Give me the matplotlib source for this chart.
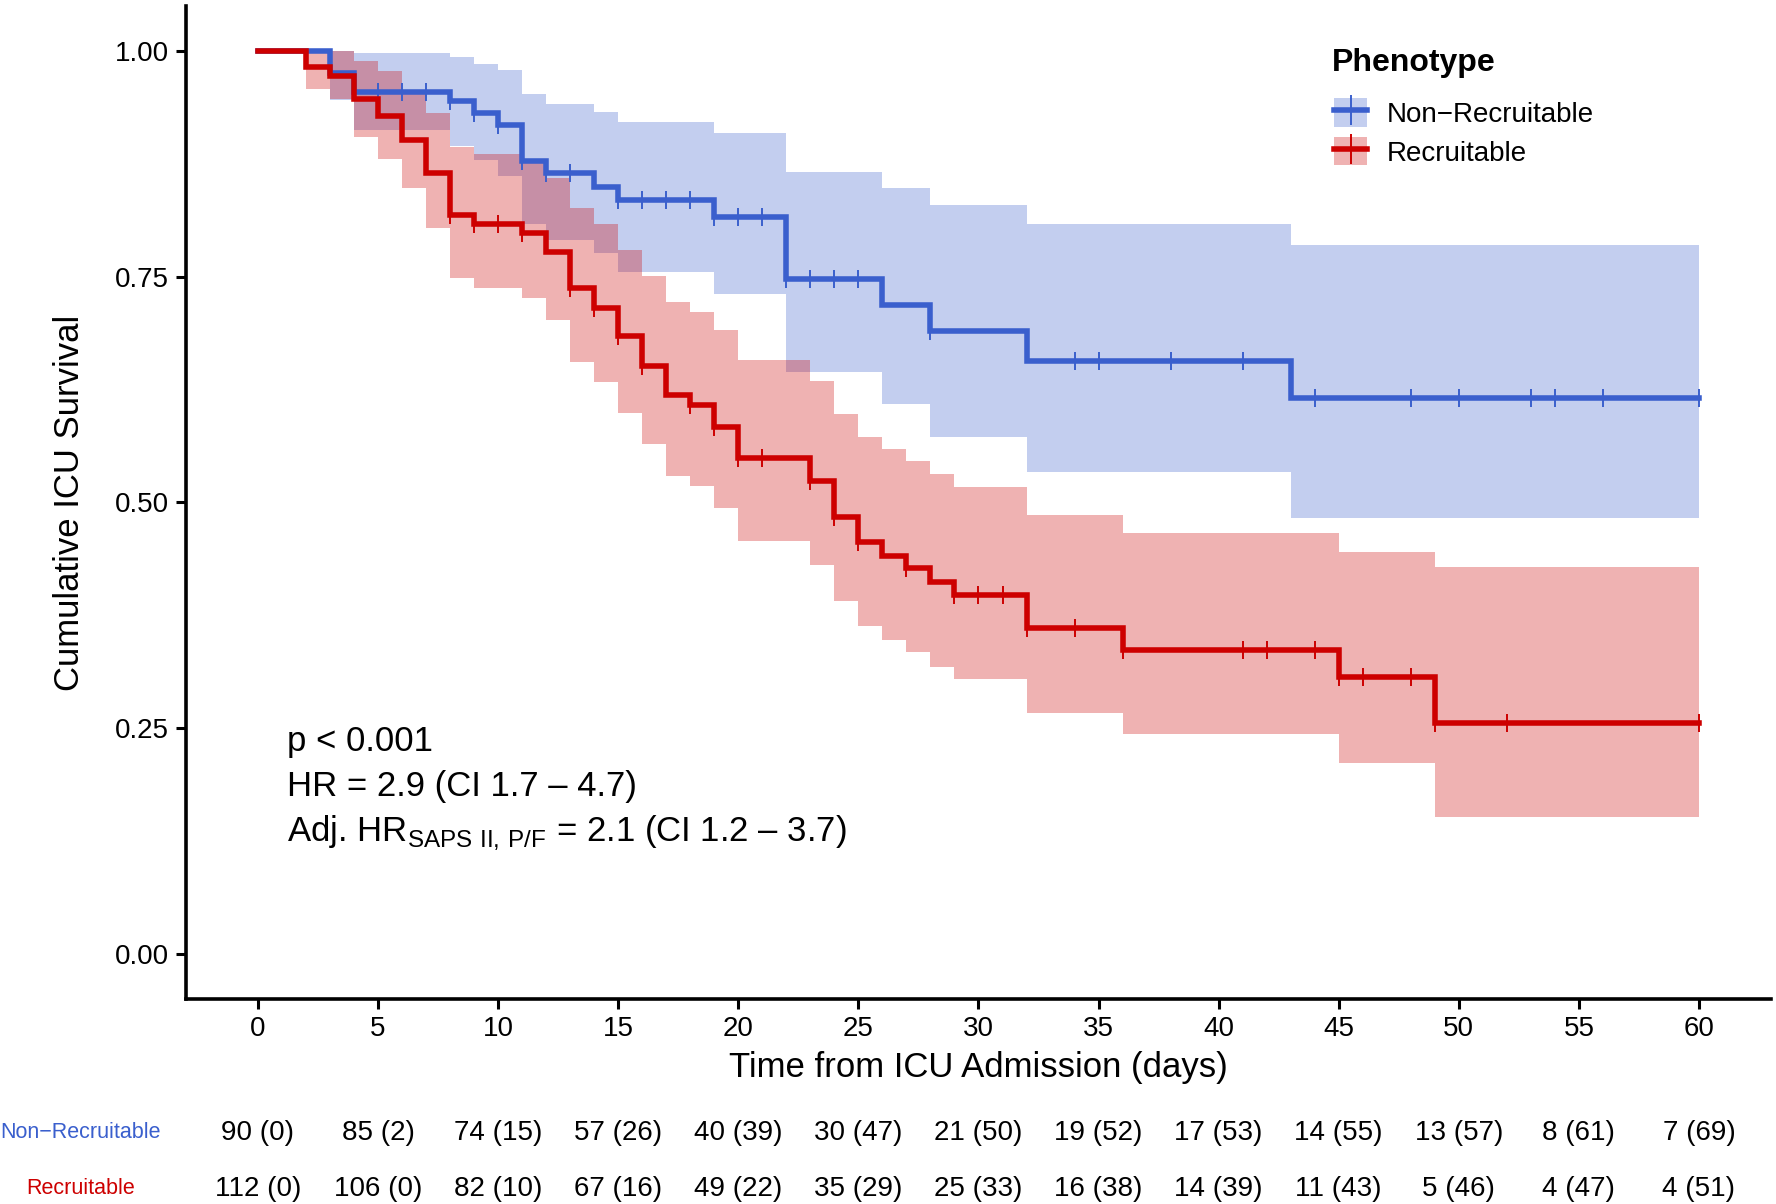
import numpy as np
import matplotlib

matplotlib.use("Agg")
import matplotlib.pyplot as plt
from matplotlib.patches import Patch
from matplotlib.lines import Line2D
from matplotlib.legend_handler import HandlerTuple

plt.rcParams["font.family"] = ["Liberation Sans", "DejaVu Sans"]
plt.rcParams["mathtext.fontset"] = "custom"
plt.rcParams["mathtext.rm"] = "Liberation Sans"

BLUE = "#3A5FCD"
RED = "#CD0000"

# Kaplan-Meier estimates (step changes, last point = end of follow-up)
nonrec_time = [0, 3, 4, 8, 9, 10, 11, 12, 14, 15, 19, 22, 26, 28, 32, 43, 60]
nonrec_surv = [1.0, 0.976, 0.955, 0.945, 0.931, 0.918, 0.878, 0.865, 0.850, 0.835,
               0.816, 0.748, 0.719, 0.690, 0.657, 0.616, 0.616]
nonrec_lower = [1.0, 0.946, 0.913, 0.895, 0.879, 0.862, 0.809, 0.791, 0.776, 0.755,
                0.731, 0.645, 0.609, 0.573, 0.534, 0.483, 0.483]
nonrec_upper = [1.0, 1.0, 0.998, 0.993, 0.986, 0.979, 0.952, 0.942, 0.933, 0.921,
                0.909, 0.866, 0.848, 0.830, 0.809, 0.785, 0.785]
nonrec_censor = [5, 6, 7, 8, 9, 10, 11, 12, 13, 15, 16, 17, 18, 19, 20, 21, 22, 23,
                 24, 25, 28, 34, 35, 38, 41, 44, 48, 50, 53, 54, 56, 60]

rec_time = [0, 2, 3, 4, 5, 6, 7, 8, 9, 11, 12, 13, 14, 15, 16, 17, 18, 19, 20, 23,
            24, 25, 26, 27, 28, 29, 32, 36, 45, 49, 60]
rec_surv = [1.0, 0.982, 0.972, 0.947, 0.928, 0.902, 0.865, 0.818, 0.809, 0.799,
            0.778, 0.7375, 0.716, 0.684, 0.651, 0.619, 0.608, 0.584, 0.549, 0.524,
            0.484, 0.456, 0.441, 0.427, 0.412, 0.397, 0.361, 0.337, 0.307, 0.2555, 0.2555]
rec_lower = [1.0, 0.958, 0.947, 0.905, 0.881, 0.848, 0.804, 0.749, 0.7375, 0.726,
             0.702, 0.656, 0.634, 0.599, 0.565, 0.529, 0.518, 0.494, 0.457, 0.431,
             0.391, 0.363, 0.348, 0.334, 0.318, 0.304, 0.267, 0.244, 0.211, 0.152, 0.152]
rec_upper = [1.0, 1.0, 1.0, 0.989, 0.978, 0.955, 0.931, 0.894, 0.886, 0.8765,
             0.860, 0.826, 0.809, 0.780, 0.751, 0.7216, 0.711, 0.691, 0.658, 0.635,
             0.598, 0.573, 0.559, 0.546, 0.532, 0.517, 0.4856, 0.4665, 0.4455, 0.429, 0.429]
rec_censor = [8, 9, 10, 11, 13, 14, 15, 16, 18, 19, 20, 21, 23, 24, 25, 27, 29, 30,
              31, 32, 34, 36, 41, 42, 44, 45, 46, 48, 49, 52, 60]

# number at risk (cumulative censored)
risk_times = [0, 5, 10, 15, 20, 25, 30, 35, 40, 45, 50, 55, 60]
nonrec_risk = ["90 (0)", "85 (2)", "74 (15)", "57 (26)", "40 (39)", "30 (47)", "21 (50)",
               "19 (52)", "17 (53)", "14 (55)", "13 (57)", "8 (61)", "7 (69)"]
rec_risk = ["112 (0)", "106 (0)", "82 (10)", "67 (16)", "49 (22)", "35 (29)", "25 (33)",
            "16 (38)", "14 (39)", "11 (43)", "5 (46)", "4 (47)", "4 (51)"]

groups = [
    ("Non\u2212Recruitable", BLUE, nonrec_time, nonrec_surv, nonrec_lower, nonrec_upper,
     nonrec_censor, nonrec_risk),
    ("Recruitable", RED, rec_time, rec_surv, rec_lower, rec_upper, rec_censor, rec_risk),
]

fig = plt.figure(figsize=(17.76, 12.04), dpi=100)
ax = fig.add_axes([0.1047, 0.1703, 0.8925, 0.8247])

for name, color, t, s, lo, hi, cens, _ in groups:
    ax.fill_between(t, lo, hi, step="post", color=color, alpha=0.3, linewidth=0)

handles = []
for name, color, t, s, lo, hi, cens, _ in groups:
    ax.step(t, s, where="post", color=color, linewidth=4.0, solid_joinstyle="miter")
    idx = np.searchsorted(t, cens, side="right") - 1
    ax.plot(cens, np.asarray(s)[idx], linestyle="none", marker="|", markersize=13,
            markeredgewidth=1.4, color=color)
    handles.append((Patch(facecolor=color, alpha=0.3, edgecolor="none"),
                    Line2D([], [], color=color, linewidth=4.0, marker="|",
                           markersize=22, markeredgewidth=1.4)))

ax.set_xlim(-3, 63)
ax.set_ylim(-0.05, 1.05)
ax.set_xticks(range(0, 61, 5))
ax.set_yticks([0, 0.25, 0.5, 0.75, 1.0])
ax.set_yticklabels(["0.00", "0.25", "0.50", "0.75", "1.00"])
ax.tick_params(labelsize=20, length=7, width=2.2, pad=5, colors="black")
for side in ("top", "right"):
    ax.spines[side].set_visible(False)
for side in ("left", "bottom"):
    ax.spines[side].set_linewidth(2.6)

ax.set_xlabel("Time from ICU Admission (days)", fontsize=25)
ax.xaxis.set_label_coords(0.5, -0.052)
ax.set_ylabel("Cumulative ICU Survival", fontsize=25)
ax.yaxis.set_label_coords(-0.063, 0.5)

stats_lines = [
    "p < 0.001",
    "HR = 2.9 (CI 1.7 \u2013 4.7)",
    "Adj. HR$_{\\mathregular{SAPS\\ II{,}\\ P/F}}$ = 2.1 (CI 1.2 \u2013 3.7)",
]
for i, line in enumerate(stats_lines):
    ax.text(1.2, 0.225 - 0.05 * i, line, fontsize=25, ha="left", va="baseline")

# legend: title drawn separately so the gap above the keys matches
fig.text(1332 / 1776, 1 - 63.5 / 1204, "Phenotype", fontsize=23, fontweight="bold",
         ha="left", va="center")
ax.legend(handles, [g[0] for g in groups], handler_map={tuple: HandlerTuple(ndivide=1, pad=0)},
          fontsize=20, frameon=False, loc="upper left",
          bbox_to_anchor=(1334 / 1776, 1 - 98.5 / 1204), bbox_transform=fig.transFigure,
          handlelength=1.2, handleheight=1.2, handletextpad=0.7, labelspacing=0.32,
          borderpad=0, borderaxespad=0)

# risk table under the axis
row_y = [0.059, 0.0125]
trans = matplotlib.transforms.blended_transform_factory(ax.transData, fig.transFigure)
for (name, color, *_rest, risk), y in zip(groups, row_y):
    fig.text(0.0453, y, name, color=color, fontsize=15.5, ha="center", va="center")
    for t, label in zip(risk_times, risk):
        ax.text(t, y, label, transform=trans, fontsize=20, ha="center", va="center",
                clip_on=False)

fig.savefig("out.png", dpi=100)
